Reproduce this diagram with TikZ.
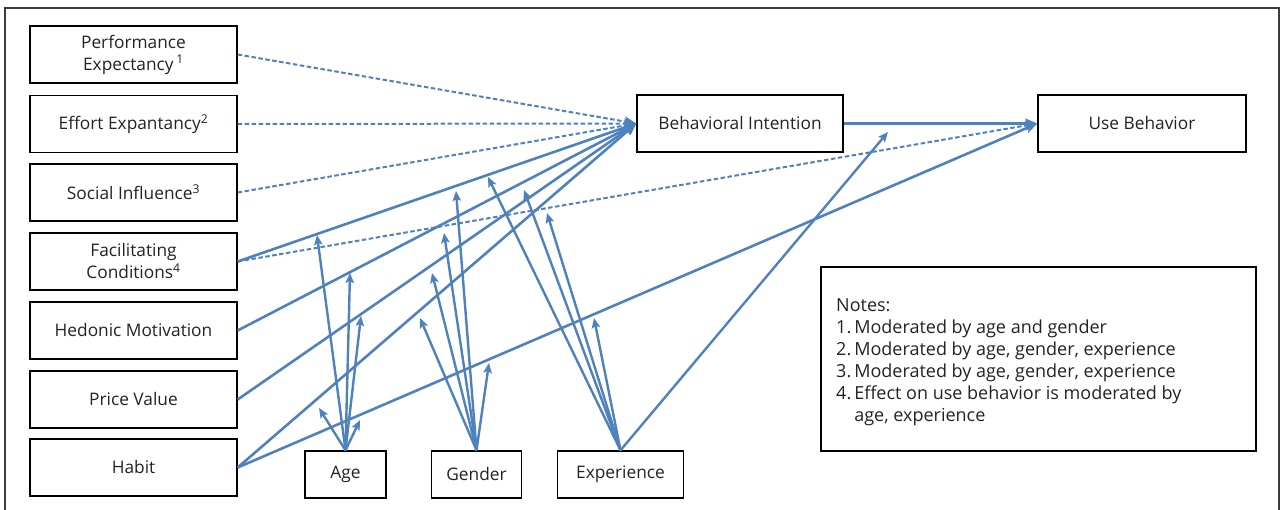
\documentclass[tikz,border=0pt]{standalone}
\usepackage{fontspec}
\setmainfont{Open Sans}
\usetikzlibrary{arrows.meta}
\definecolor{lineblue}{RGB}{79,129,189}
\definecolor{framegray}{RGB}{60,60,60}
\definecolor{textgray}{RGB}{35,35,35}
\begin{document}
\begin{tikzpicture}[x=1pt,y=-1pt,
  box/.style={draw=black, line width=1.4pt, fill=white, minimum height=57pt, inner sep=0pt, align=center, text=textgray, font=\fontsize{17.3}{22}\selectfont},
  lbox/.style={box, minimum width=207pt},
  mbox/.style={box, minimum height=47pt},
  conn/.style={draw=lineblue, line width=2.6pt, -{Stealth[length=12pt,width=10pt,inset=2.5pt]}},
  dconn/.style={draw=lineblue, line width=2pt, dash pattern=on 4.5pt off 2.5pt, -{Stealth[length=12pt,width=10pt,inset=2.5pt]}},
  mod/.style={draw=lineblue, line width=2.4pt, -{Stealth[length=10pt,width=8.5pt,inset=2pt]}},
]
\useasboundingbox (0,0) rectangle (1282,510);
\draw[framegray, line width=1.8pt] (5,520) -- (5,8) -- (1279,8) -- (1279,520);

% left boxes
\node[lbox] (pe) at (133.5,54.5) {Performance\\Expectancy\,\textsuperscript{1}};
\node[lbox] (ee) at (133.5,124) {Effort Expantancy\textsuperscript{2}};
\node[lbox] (si) at (133.5,192.5) {Social Influence\textsuperscript{3}};
\node[lbox] (fc) at (133.5,261.5) {Facilitating\\Conditions\textsuperscript{4}};
\node[lbox] (hm) at (133.5,330.5) {Hedonic Motivation};
\node[lbox] (pv) at (133.5,399.5) {Price Value};
\node[lbox] (hb) at (133.5,467.5) {Habit};

% right boxes
\node[box, minimum width=206pt] (bi) at (740,123.5) {Behavioral Intention};
\node[box, minimum width=208pt] (ub) at (1142,123.5) {Use Behavior};

% moderators
\node[mbox, minimum width=81pt] (age) at (345.5,474.5) {Age};
\node[mbox, minimum width=90pt] (gen) at (476.5,474.5) {Gender};
\node[mbox, minimum width=126pt] (exp) at (620.5,474.5) {Experience};

% notes
\node[draw=black, line width=1.4pt, minimum width=435pt, minimum height=184pt, inner sep=0pt] (notes) at (1038.5,359) {};
\node[anchor=north west, align=left, inner sep=0pt, text=textgray, font=\fontsize{18}{22}\selectfont] (notestext) at (836,298.5) {Notes:\\
1.\,Moderated by age and gender\\
2.\,Moderated by age, gender, experience\\
3.\,Moderated by age, gender, experience\\
4.\,Effect on use behavior is moderated by\\
\phantom{4.\,}age, experience};

% moderator tip coordinates
\coordinate (a1) at (317,235);
\coordinate (a2) at (350,273);
\coordinate (a3) at (361,316);
\coordinate (a4) at (319,408);
\coordinate (a5) at (360,420);
\coordinate (g1) at (456,191);
\coordinate (g2) at (444,233);
\coordinate (g3) at (432,273);
\coordinate (g4) at (420,318);
\coordinate (g5) at (489,363);
\coordinate (e1) at (488,177);
\coordinate (e2) at (524,190);
\coordinate (e3) at (547,213);
\coordinate (e4) at (594,318);
\coordinate (e5) at (888,132);

% dashed paths
\draw[dconn] (pe.east) -- (bi.west);
\draw[dconn] (ee.east) -- (bi.west);
\draw[dconn] (si.east) -- (bi.west);
\draw[dconn] (fc.east) -- (ub.west);

% solid paths
\draw[conn] (fc.east) -- (bi.west);
\draw[conn] (hm.east) -- (bi.west);
\draw[conn] (pv.east) -- (bi.west);
\draw[conn] (hb.east) -- (bi.west);
\draw[conn] (hb.east) -- (ub.west);
\draw[conn] (bi.east) -- (ub.west);

% moderator arrows
\foreach \t in {a1,a2,a3,a4,a5} \draw[mod] (age.north) -- (\t);
\foreach \t in {g1,g2,g3,g4,g5} \draw[mod] (gen.north) -- (\t);
\foreach \t in {e1,e2,e3,e4,e5} \draw[mod] (exp.north) -- (\t);
\end{tikzpicture}
\end{document}
